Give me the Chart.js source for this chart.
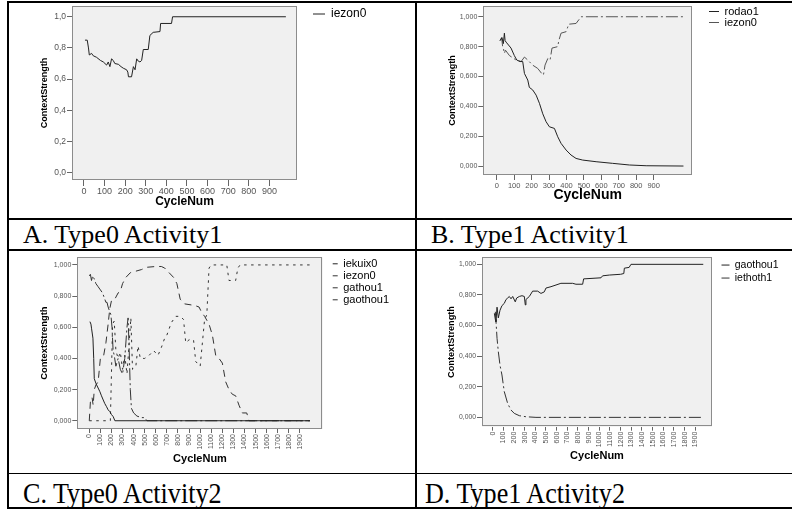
<!DOCTYPE html>
<html>
<head>
<meta charset="utf-8">
<title>ContextStrength by CycleNum</title>
<script src="https://cdn.jsdelivr.net/npm/chart.js@4.4.1/dist/chart.umd.min.js"></script>
<style>
  html, body { margin: 0; padding: 0; background: #fff; }
  #page { position: relative; width: 792px; height: 509px; overflow: hidden; }
  .rule { position: absolute; background: #000; }
  .cell { position: absolute; }
  .cap { position: absolute; font-family: 'Liberation Serif', 'Times New Roman', serif;
         color: #000; white-space: nowrap; line-height: 1; transform-origin: 0 0; }
</style>
</head>
<body>
<div id="page">
  <div class="cell" style="left:9px;top:3px;width:406px;height:215px"><canvas id="chartA"></canvas></div>
  <div class="cell" style="left:418px;top:3px;width:372px;height:215px"><canvas id="chartB"></canvas></div>
  <div class="cell" style="left:9px;top:251px;width:406px;height:222px"><canvas id="chartC"></canvas></div>
  <div class="cell" style="left:418px;top:251px;width:372px;height:222px"><canvas id="chartD"></canvas></div>

  <div class="rule" style="left:7px;top:1px;width:785px;height:2px"></div>
  <div class="rule" style="left:7px;top:1px;width:2px;height:508px"></div>
  <div class="rule" style="left:415px;top:1px;width:2px;height:508px"></div>
  <div class="rule" style="left:7px;top:218px;width:785px;height:2px"></div>
  <div class="rule" style="left:7px;top:249px;width:785px;height:2px"></div>
  <div class="rule" style="left:7px;top:473px;width:785px;height:1px"></div>
  <div class="rule" style="left:7px;top:507px;width:785px;height:2px"></div>

  <div class="cap" style="left:23px;top:222px;font-size:26px">A. Type0 Activity1</div>
  <div class="cap" style="left:431px;top:222px;font-size:26px">B. Type1 Activity1</div>
  <div class="cap" style="left:23px;top:478px;font-size:30px;transform:scaleX(0.87)">C. Type0 Activity2</div>
  <div class="cap" style="left:425px;top:478px;font-size:30px;transform:scaleX(0.87)">D. Type1 Activity2</div>
</div>

<script>
'use strict';

/* ─── Données ────────────────────────────────────────────── */
var ticks900   = [0, 100, 200, 300, 400, 500, 600, 700, 800, 900];
var labels900  = ['0', '100', '200', '300', '400', '500', '600', '700', '800', '900'];
var ticks1900  = [0, 100, 200, 300, 400, 500, 600, 700, 800, 900, 1000,
                  1100, 1200, 1300, 1400, 1500, 1600, 1700, 1800, 1900];
var labels1900 = ['0', '100', '200', '300', '400', '500', '600', '700', '800', '900', '1000',
                  '1100', '1200', '1300', '1400', '1500', '1600', '1700', '1800', '1900'];
var yTicks     = [0, 0.2, 0.4, 0.6, 0.8, 1.0];
var yLabels1   = ['0,0', '0,2', '0,4', '0,6', '0,8', '1,0'];
var yLabels3   = ['0,000', '0,200', '0,400', '0,600', '0,800', '1,000'];

/* A. Type0 Activity1 */
var aIezonX = [5, 16, 22, 26, 37, 45, 61, 80, 94, 110, 118, 126, 134, 142, 150, 167, 180, 191, 207, 213,
               216, 231, 240, 248, 256, 264, 272, 280, 288, 312, 320, 336, 369, 372, 425, 430, 980];
var aIezonY = [0.85, 0.85, 0.80, 0.755, 0.765, 0.75, 0.74, 0.72, 0.71, 0.69, 0.71, 0.68, 0.73, 0.72, 0.70, 0.695, 0.68, 0.67, 0.66, 0.645,
               0.615, 0.615, 0.68, 0.66, 0.73, 0.715, 0.71, 0.72, 0.79, 0.79, 0.88, 0.90, 0.905, 0.957, 0.957, 1.0, 1.0];

/* B. Type1 Activity1 */
var bRodaoX = [19, 30, 38, 44, 48, 54, 82, 101, 115, 134, 149, 159, 178, 187, 206, 226, 245, 264, 283, 302,
               331, 350, 369, 398, 426, 455, 493, 570, 665, 761, 857, 1071];
var bRodaoY = [0.84, 0.86, 0.82, 0.89, 0.84, 0.83, 0.79, 0.74, 0.71, 0.70, 0.70, 0.62, 0.576, 0.527, 0.51, 0.475, 0.42, 0.35, 0.297, 0.263,
               0.252, 0.196, 0.152, 0.107, 0.074, 0.051, 0.04, 0.029, 0.018, 0.007, 0.002, 0];
var bIezonX = [19, 28, 34, 38, 44, 50, 73, 111, 140, 159, 178, 206, 235, 258, 268, 277, 293, 306, 317, 350,
               356, 369, 398, 413, 455, 484, 1071];
var bIezonY = [0.84, 0.86, 0.80, 0.79, 0.755, 0.776, 0.74, 0.71, 0.70, 0.73, 0.71, 0.676, 0.654, 0.62, 0.61, 0.676, 0.72, 0.71, 0.79, 0.80,
               0.84, 0.89, 0.90, 0.95, 0.955, 1.0, 1.0];

/* C. Type0 Activity2 */
var cKuixX = [6, 15, 21, 33, 40, 45, 60, 66, 80, 96, 110, 126, 140, 156, 170, 186, 200, 216, 231, 1990];
var cKuixY = [0.636, 0.62, 0.59, 0.53, 0.40, 0.27, 0.24, 0.23, 0.21, 0.186, 0.16, 0.133, 0.11, 0.09, 0.07, 0.058, 0.04, 0.026, 0, 0];
var cIezonX = [0, 10, 20, 30, 45, 60, 80, 100, 120, 140, 150, 160, 170, 185, 195, 205, 215, 225, 240, 260,
               280, 300, 320, 340, 350, 360, 370, 380, 400, 430, 470, 500, 520, 1990];
var cIezonY = [0.93, 0.94, 0.90, 0.93, 0.91, 0.88, 0.86, 0.84, 0.82, 0.78, 0.76, 0.76, 0.73, 0.70, 0.68, 0.60, 0.45, 0.42, 0.35, 0.40,
               0.33, 0.30, 0.40, 0.60, 0.66, 0.45, 0.20, 0.08, 0.05, 0.03, 0.02, 0.02, 0, 0];
var cGathouX = [0, 10, 25, 35, 45, 60, 80, 100, 130, 150, 170, 185, 200, 230, 260, 280, 300, 330, 370, 420,
                470, 520, 600, 650, 680, 720, 760, 790, 820, 860, 950, 990, 1010, 1040, 1080, 1110, 1140, 1170, 1200, 1230,
                1260, 1290, 1320, 1350, 1380, 1420, 1440, 1990];
var cGathouY = [0, 0.12, 0.15, 0.10, 0.20, 0.23, 0.25, 0.40, 0.42, 0.50, 0.62, 0.72, 0.77, 0.78, 0.82, 0.83, 0.88, 0.92, 0.95, 0.96,
                0.97, 0.985, 0.99, 0.99, 0.98, 0.95, 0.92, 0.88, 0.78, 0.75, 0.74, 0.73, 0.70, 0.67, 0.62, 0.55, 0.42, 0.40, 0.37, 0.25,
                0.20, 0.17, 0.16, 0.10, 0.05, 0.05, 0, 0];
var cGaothouX = [0, 190, 200, 210, 225, 240, 260, 280, 300, 320, 340, 360, 375, 390, 420, 440, 460, 500, 540, 580,
                 620, 650, 680, 700, 740, 780, 820, 850, 870, 900, 940, 960, 1000, 1020, 1040, 1060, 1080, 1100, 1240, 1260,
                 1320, 1340, 1360, 1990];
var cGaothouY = [0, 0, 0.30, 0.62, 0.64, 0.45, 0.40, 0.44, 0.33, 0.42, 0.30, 0.50, 0.66, 0.33, 0.35, 0.48, 0.40, 0.40, 0.42, 0.45,
                 0.42, 0.47, 0.53, 0.55, 0.63, 0.67, 0.67, 0.65, 0.50, 0.52, 0.52, 0.38, 0.35, 0.50, 0.65, 0.68, 0.98, 1.0, 1.0, 0.90,
                 0.90, 0.98, 1.0, 1.0];

/* D. Type1 Activity2 */
var dGaoX = [16, 25, 31, 41, 53, 69, 87, 109, 125, 141, 156, 172, 188, 212, 225, 250, 275, 297, 306, 312,
             344, 375, 422, 453, 484, 500, 547, 594, 640, 750, 781, 844, 853, 969, 1016, 1031, 1094, 1200, 1230, 1235,
             1280, 1297, 1975];
var dGaoY = [0.68, 0.64, 0.625, 0.72, 0.65, 0.70, 0.73, 0.745, 0.77, 0.78, 0.79, 0.775, 0.79, 0.755, 0.78, 0.79, 0.795, 0.79, 0.735, 0.77,
             0.79, 0.825, 0.825, 0.81, 0.82, 0.845, 0.854, 0.865, 0.876, 0.876, 0.87, 0.87, 0.905, 0.91, 0.912, 0.925, 0.93, 0.935, 0.94, 0.975,
             0.98, 1.0, 1.0];
var dIethX = [25, 31, 41, 53, 69, 87, 109, 141, 172, 203, 250, 312, 406, 1975];
var dIethY = [0.69, 0.63, 0.516, 0.43, 0.34, 0.277, 0.168, 0.09, 0.048, 0.026, 0.011, 0.004, 0, 0];

/* ─── Styles ─────────────────────────────────────────────── */
var FONT     = "'Liberation Sans', Arial, sans-serif";
var SOLID    = [];
var DASHDOT  = [12, 3, 2, 3];
var LONGDASH = [7, 5];
var DOTTED   = [2.5, 4.5];

function xy(xs, ys) {
  return xs.map(function(x, i) { return { x: x, y: ys[i] }; });
}

/* fond gris + cadre du graphe, comme SPSS */
var plotFrame = {
  id: 'plotFrame',
  beforeDraw: function(chart) {
    var a = chart.chartArea, c = chart.ctx;
    c.save();
    c.fillStyle = '#f0f0f0';
    c.fillRect(a.left, a.top, a.right - a.left, a.bottom - a.top);
    c.restore();
  },
  afterDraw: function(chart) {
    var a = chart.chartArea, c = chart.ctx;
    c.save();
    c.strokeStyle = '#8c8c8c';
    c.lineWidth = 1;
    c.strokeRect(Math.round(a.left) + 0.5, Math.round(a.top) + 0.5,
                 Math.round(a.right - a.left) - 1, Math.round(a.bottom - a.top) - 1);
    c.restore();
  }
};

/* largeur fixe de la légende, pour garder la zone du graphe en place */
var fixLegend = {
  id: 'fixLegend',
  beforeLayout: function(chart, args, opts) {
    var lg = chart.legend;
    if (!lg || lg._fixedFit) { return; }
    var fit = lg.fit;
    lg.fit = function() { fit.call(this); this.width = opts.width; };
    lg._fixedFit = true;
  }
};

function makePanel(id, p) {
  var datasets = p.series.map(function(s) {
    return {
      label: s.label, data: xy(s.xs, s.ys),
      borderColor: s.color, backgroundColor: s.color, borderWidth: 1, borderDash: s.dash,
      pointRadius: 0, tension: 0, fill: false, xAxisID: 'x', yAxisID: 'y'
    };
  });
  var a = p.area;

  return new Chart(document.getElementById(id), {
    type: 'line',
    data: { datasets: datasets },
    plugins: [plotFrame, fixLegend],
    options: {
      responsive: true, maintainAspectRatio: false, animation: false,
      layout: { padding: { top: a.top, left: 0, right: 0, bottom: 0 } },
      plugins: {
        tooltip: { enabled: false },
        fixLegend: { width: p.w - a.right - p.legGap },
        legend: {
          position: 'right', align: 'start',
          labels: {
            usePointStyle: true, pointStyle: 'line', pointStyleWidth: p.legSample,
            padding: p.legPad, color: '#000',
            font: { family: FONT, size: p.legFs }
          }
        }
      },
      scales: {
        x: {
          type: 'linear', min: p.xMin, max: p.xMax,
          afterBuildTicks: function(s) { s.ticks = p.xTicks.map(function(v) { return { value: v }; }); },
          afterFit: function(s) {
            s.height = p.h - a.bottom;
            s.paddingLeft = 0; s.paddingRight = 0; s.paddingTop = 0; s.paddingBottom = 0;
          },
          border: { display: false },
          grid: { drawOnChartArea: false, drawTicks: true, tickLength: p.xTickLen, color: '#666' },
          ticks: {
            autoSkip: false, minRotation: p.rot, maxRotation: p.rot, padding: p.xTickPad,
            color: '#555', font: { family: FONT, size: p.xTickFs },
            callback: function(v, i) { return p.xLabels[i]; }
          },
          title: {
            display: true, text: 'CycleNum', color: '#000',
            font: { family: FONT, size: p.xTitleFs, weight: 'bold' },
            padding: { top: 0, bottom: p.xTitlePad }
          }
        },
        y: {
          type: 'linear', position: 'left', min: p.yMin, max: p.yMax,
          afterBuildTicks: function(s) { s.ticks = yTicks.map(function(v) { return { value: v }; }); },
          afterFit: function(s) {
            s.width = a.left;
            s.paddingLeft = 0; s.paddingRight = 0; s.paddingTop = 0; s.paddingBottom = 0;
          },
          border: { display: false },
          grid: { drawOnChartArea: false, drawTicks: true, tickLength: 5, color: '#666' },
          ticks: {
            padding: 1, color: '#555', font: { family: FONT, size: p.yTickFs },
            callback: function(v, i) { return p.yLabels[i]; }
          },
          title: {
            display: true, text: 'ContextStrength', color: '#000',
            font: { family: FONT, size: p.yTitleFs, weight: 'bold' },
            padding: { top: p.yTitlePad, bottom: 0 }
          }
        },
        /* axe vide : simple écart entre le graphe et la légende */
        yR: {
          type: 'linear', position: 'right', display: true,
          grid: { display: false }, border: { display: false }, ticks: { display: false },
          afterFit: function(s) {
            s.width = p.legGap;
            s.paddingTop = 0; s.paddingBottom = 0;
          }
        }
      }
    }
  });
}

/* ─── Init ────────────────────────────────────────────────── */
makePanel('chartA', {
  w: 406, h: 215, area: { left: 63, right: 288, top: 3, bottom: 177 },
  xMin: -58, xMax: 1034, yMin: -0.047, yMax: 1.069,
  xTicks: ticks900, xLabels: labels900, yLabels: yLabels1, rot: 0,
  xTickLen: 6, xTickPad: 0, xTickFs: 9, yTickFs: 8.5,
  xTitleFs: 12, xTitlePad: 8.8, yTitleFs: 9, yTitlePad: 30.6,
  legFs: 12, legPad: 2, legGap: 14, legSample: 12,
  series: [
    { label: 'iezon0', xs: aIezonX, ys: aIezonY, dash: SOLID, color: '#222' }
  ]
});

makePanel('chartB', {
  w: 372, h: 215, area: { left: 65.3, right: 274, top: 3, bottom: 172 },
  xMin: -77, xMax: 1120, yMin: -0.060, yMax: 1.072,
  xTicks: ticks900, xLabels: labels900, yLabels: yLabels3, rot: 0,
  xTickLen: 5, xTickPad: 1, xTickFs: 7.5, yTickFs: 7,
  xTitleFs: 14, xTitlePad: 14.6, yTitleFs: 9, yTitlePad: 29.6,
  legFs: 11, legPad: 0, legGap: 17, legSample: 10,
  series: [
    { label: 'rodao1', xs: bRodaoX, ys: bRodaoY, dash: SOLID, color: '#222' },
    { label: 'iezon0', xs: bIezonX, ys: bIezonY, dash: DASHDOT, color: '#555' }
  ]
});

makePanel('chartC', {
  w: 406, h: 222, area: { left: 68.3, right: 313.7, top: 6.3, bottom: 178 },
  xMin: -108, xMax: 2105, yMin: -0.053, yMax: 1.049,
  xTicks: ticks1900, xLabels: labels1900, yLabels: yLabels3, rot: 90,
  xTickLen: 4, xTickPad: 1, xTickFs: 7, yTickFs: 7,
  xTitleFs: 11, xTitlePad: 7.4, yTitleFs: 9.4, yTitlePad: 29.4,
  legFs: 11, legPad: 1, legGap: 9, legSample: 5,
  series: [
    { label: 'iekuix0', xs: cKuixX, ys: cKuixY, dash: SOLID, color: '#222' },
    { label: 'iezon0', xs: cIezonX, ys: cIezonY, dash: DASHDOT, color: '#333' },
    { label: 'gathou1', xs: cGathouX, ys: cGathouY, dash: LONGDASH, color: '#333' },
    { label: 'gaothou1', xs: cGaothouX, ys: cGaothouY, dash: DOTTED, color: '#333' }
  ]
});

makePanel('chartD', {
  w: 372, h: 222, area: { left: 64, right: 294, top: 6.3, bottom: 175.7 },
  xMin: -100, xMax: 2057, yMin: -0.061, yMax: 1.046,
  xTicks: ticks1900, xLabels: labels1900, yLabels: yLabels3, rot: 90,
  xTickLen: 4, xTickPad: 1, xTickFs: 7, yTickFs: 6.8,
  xTitleFs: 11, xTitlePad: 10, yTitleFs: 9.2, yTitlePad: 27.5,
  legFs: 10.5, legPad: 2.5, legGap: 7, legSample: 8,
  series: [
    { label: 'gaothou1', xs: dGaoX, ys: dGaoY, dash: SOLID, color: '#222' },
    { label: 'iethoth1', xs: dIethX, ys: dIethY, dash: DASHDOT, color: '#333' }
  ]
});
</script>
</body>
</html>
